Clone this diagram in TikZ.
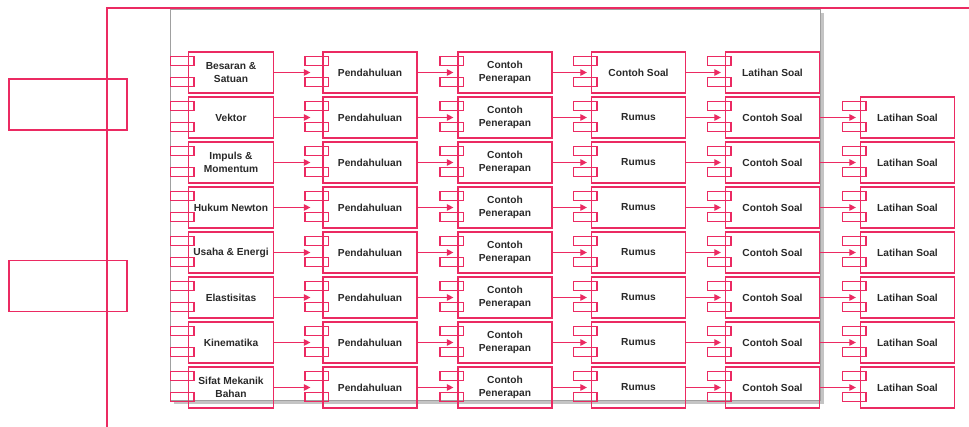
\documentclass[tikz,border=0pt]{standalone}
\usepackage{fontspec}
\setmainfont{Liberation Sans}
\usetikzlibrary{arrows.meta}
\definecolor{rose}{HTML}{EB2A62}
\definecolor{ink}{HTML}{2A2A2A}
\definecolor{panelgray}{HTML}{A0A0A0}
\definecolor{shadowgray}{HTML}{C4C4C4}

\begin{document}
\begin{tikzpicture}[x=1pt, y=-1pt,
  comp/.style={draw=rose, line width=1.2pt, fill=none, inner sep=0pt,
    minimum width=94pt, minimum height=41pt, align=center, text=ink,
    font=\fontsize{10.2}{12.5}\selectfont\bfseries,
    append after command={\pgfextra{
      \draw[rose, line width=1.2pt] (\tikzlastnode.north west) ++(-17.5,5) rectangle ++(23.5,9)
        (\tikzlastnode.north west) ++(-17.5,26) rectangle ++(23.5,9);}}},
  topic/.style={comp, minimum width=85pt},
  lane/.style={draw=rose, line width=1.2pt, minimum width=118pt, minimum height=51pt},
  flow/.style={draw=rose, line width=1.1pt, shorten >=4pt, -{Triangle[length=6.5pt,width=6.5pt]}}]
  \useasboundingbox (0,0) rectangle (969,427);

  % bingkai luar
  \begin{scope}
    \clip (0,0) rectangle (969,427);
    \draw[rose, line width=1.5pt] (107,8) rectangle (1100,600);
  \end{scope}

  % kotak kiri
  \node[lane] (lane1) at (68,104.5) {};
  \node[lane] (lane2) at (68,286) {};

  % panel abu-abu
  \fill[shadowgray] (174,13) rectangle (824,404);
  \draw[panelgray, fill=white, line width=0.8pt] (170,9.5) rectangle (820,400);

  % baris 1
  \node[topic] (r1c1) at (231,72.5) {Besaran \&\\Satuan};
  \node[comp] (r1c2) at (370,72.5) {Pendahuluan};
  \node[comp] (r1c3) at (505,72.5) {Contoh\\Penerapan};
  \node[comp] (r1c4) at (638.5,72.5) {Contoh Soal};
  \node[comp] (r1c5) at (772.5,72.5) {Latihan Soal};

  % baris 2
  \node[topic] (r2c1) at (231,117.5) {Vektor};
  \node[comp] (r2c2) at (370,117.5) {Pendahuluan};
  \node[comp] (r2c3) at (505,117.5) {Contoh\\Penerapan};
  \node[comp] (r2c4) at (638.5,117.5) {Rumus};
  \node[comp] (r2c5) at (772.5,117.5) {Contoh Soal};
  \node[comp] (r2c6) at (907.5,117.5) {Latihan Soal};

  % baris 3
  \node[topic] (r3c1) at (231,162.5) {Impuls \&\\Momentum};
  \node[comp] (r3c2) at (370,162.5) {Pendahuluan};
  \node[comp] (r3c3) at (505,162.5) {Contoh\\Penerapan};
  \node[comp] (r3c4) at (638.5,162.5) {Rumus};
  \node[comp] (r3c5) at (772.5,162.5) {Contoh Soal};
  \node[comp] (r3c6) at (907.5,162.5) {Latihan Soal};

  % baris 4
  \node[topic] (r4c1) at (231,207.5) {Hukum Newton};
  \node[comp] (r4c2) at (370,207.5) {Pendahuluan};
  \node[comp] (r4c3) at (505,207.5) {Contoh\\Penerapan};
  \node[comp] (r4c4) at (638.5,207.5) {Rumus};
  \node[comp] (r4c5) at (772.5,207.5) {Contoh Soal};
  \node[comp] (r4c6) at (907.5,207.5) {Latihan Soal};

  % baris 5
  \node[topic] (r5c1) at (231,252.5) {Usaha \& Energi};
  \node[comp] (r5c2) at (370,252.5) {Pendahuluan};
  \node[comp] (r5c3) at (505,252.5) {Contoh\\Penerapan};
  \node[comp] (r5c4) at (638.5,252.5) {Rumus};
  \node[comp] (r5c5) at (772.5,252.5) {Contoh Soal};
  \node[comp] (r5c6) at (907.5,252.5) {Latihan Soal};

  % baris 6
  \node[topic] (r6c1) at (231,297.5) {Elastisitas};
  \node[comp] (r6c2) at (370,297.5) {Pendahuluan};
  \node[comp] (r6c3) at (505,297.5) {Contoh\\Penerapan};
  \node[comp] (r6c4) at (638.5,297.5) {Rumus};
  \node[comp] (r6c5) at (772.5,297.5) {Contoh Soal};
  \node[comp] (r6c6) at (907.5,297.5) {Latihan Soal};

  % baris 7
  \node[topic] (r7c1) at (231,342.5) {Kinematika};
  \node[comp] (r7c2) at (370,342.5) {Pendahuluan};
  \node[comp] (r7c3) at (505,342.5) {Contoh\\Penerapan};
  \node[comp] (r7c4) at (638.5,342.5) {Rumus};
  \node[comp] (r7c5) at (772.5,342.5) {Contoh Soal};
  \node[comp] (r7c6) at (907.5,342.5) {Latihan Soal};

  % baris 8
  \node[topic] (r8c1) at (231,387.5) {Sifat Mekanik\\Bahan};
  \node[comp] (r8c2) at (370,387.5) {Pendahuluan};
  \node[comp] (r8c3) at (505,387.5) {Contoh\\Penerapan};
  \node[comp] (r8c4) at (638.5,387.5) {Rumus};
  \node[comp] (r8c5) at (772.5,387.5) {Contoh Soal};
  \node[comp] (r8c6) at (907.5,387.5) {Latihan Soal};

  % panah
  \draw[flow, shorten >=12pt] (r1c1) -- (r1c2);
  \draw[flow] (r1c2) -- (r1c3);
  \draw[flow] (r1c3) -- (r1c4);
  \draw[flow] (r1c4) -- (r1c5);

  \draw[flow, shorten >=12pt] (r2c1) -- (r2c2);
  \draw[flow] (r2c2) -- (r2c3);
  \draw[flow] (r2c3) -- (r2c4);
  \draw[flow] (r2c4) -- (r2c5);
  \draw[flow] (r2c5) -- (r2c6);

  \draw[flow, shorten >=12pt] (r3c1) -- (r3c2);
  \draw[flow] (r3c2) -- (r3c3);
  \draw[flow] (r3c3) -- (r3c4);
  \draw[flow] (r3c4) -- (r3c5);
  \draw[flow] (r3c5) -- (r3c6);

  \draw[flow, shorten >=12pt] (r4c1) -- (r4c2);
  \draw[flow] (r4c2) -- (r4c3);
  \draw[flow] (r4c3) -- (r4c4);
  \draw[flow] (r4c4) -- (r4c5);
  \draw[flow] (r4c5) -- (r4c6);

  \draw[flow, shorten >=12pt] (r5c1) -- (r5c2);
  \draw[flow] (r5c2) -- (r5c3);
  \draw[flow] (r5c3) -- (r5c4);
  \draw[flow] (r5c4) -- (r5c5);
  \draw[flow] (r5c5) -- (r5c6);

  \draw[flow, shorten >=12pt] (r6c1) -- (r6c2);
  \draw[flow] (r6c2) -- (r6c3);
  \draw[flow] (r6c3) -- (r6c4);
  \draw[flow] (r6c4) -- (r6c5);
  \draw[flow] (r6c5) -- (r6c6);

  \draw[flow, shorten >=12pt] (r7c1) -- (r7c2);
  \draw[flow] (r7c2) -- (r7c3);
  \draw[flow] (r7c3) -- (r7c4);
  \draw[flow] (r7c4) -- (r7c5);
  \draw[flow] (r7c5) -- (r7c6);

  \draw[flow, shorten >=12pt] (r8c1) -- (r8c2);
  \draw[flow] (r8c2) -- (r8c3);
  \draw[flow] (r8c3) -- (r8c4);
  \draw[flow] (r8c4) -- (r8c5);
  \draw[flow] (r8c5) -- (r8c6);
\end{tikzpicture}
\end{document}
